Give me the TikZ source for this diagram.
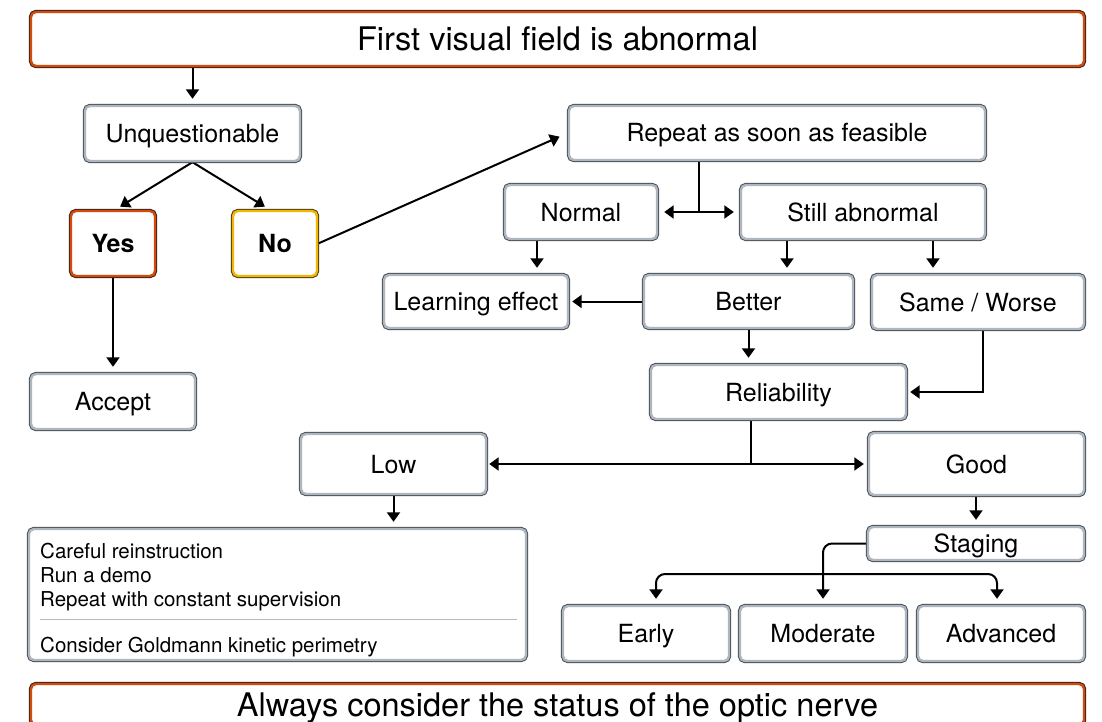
\documentclass[tikz,border=0pt]{standalone}
\usepackage{fontspec}
\setmainfont{TeX Gyre Heros}
\usetikzlibrary{arrows.meta,calc}
\pgfdeclarelayer{bg}
\pgfsetlayers{bg,main}
\definecolor{gout}{HTML}{4A5057}
\definecolor{gin}{HTML}{AEB6BF}
\definecolor{oout}{HTML}{3A2418}
\definecolor{oin}{HTML}{D4490C}
\definecolor{yout}{HTML}{4A3A10}
\definecolor{yin}{HTML}{F2B705}
\tikzset{
  bx/.style n args={2}{rounded corners=5pt, fill=white, draw=#2, line width=2.4pt,
    preaction={draw=#1, line width=4.4pt}, inner sep=0pt,
    font=\fontsize{25}{30}\selectfont, text height=18pt, text depth=0pt},
  box/.style={bx={gout}{gin}},
  obox/.style={bx={oout}{oin}},
  ybox/.style={bx={yout}{yin}},
  big/.style={font=\fontsize{32.5}{38}\selectfont, text height=23.3pt, text depth=0pt},
  txt/.style={font=\fontsize{20.5}{24}\selectfont, inner sep=0pt},
  tip/.tip={Triangle[width=13pt,length=9.5pt]},
  arr/.style={-tip, line width=2pt, shorten >=6pt},
  ln/.style={line width=2pt},
}
\begin{document}
\begin{tikzpicture}[x=1pt,y=-1pt]
\path[use as bounding box] (0,0) rectangle (1102,722);
\clip (0,0) rectangle (1102,722);
\begin{pgfonlayer}{bg}
\fill[white] (0,0) rectangle (1102,722);
\end{pgfonlayer}

\node[obox, big, minimum width=1053pt, minimum height=54pt] (title) at (557.5,39) {First visual field is abnormal};
\node[box, minimum width=215pt, minimum height=55pt] (unq) at (192.5,133.5) {Unquestionable};
\node[obox, minimum width=84pt, minimum height=65pt, font=\fontsize{25}{30}\selectfont\bfseries] (yes) at (113,243.5) {Yes};
\node[ybox, minimum width=84pt, minimum height=65pt, font=\fontsize{25}{30}\selectfont\bfseries] (no) at (275,243.5) {No};
\node[box, minimum width=164pt, minimum height=55pt] (accept) at (113,401.5) {Accept};
\node[box, minimum width=416pt, minimum height=54pt] (repeat) at (777,133) {Repeat as soon as feasible};
\node[box, minimum width=152pt, minimum height=54pt] (normal) at (581,212) {Normal};
\node[box, minimum width=244pt, minimum height=54pt] (still) at (863,212) {Still abnormal};
\node[box, minimum width=184pt, minimum height=53pt] (learn) at (476,301.5) {Learning effect};
\node[box, minimum width=209pt, minimum height=53pt] (better) at (748.5,301.5) {Better};
\node[box, minimum width=212pt, minimum height=54pt] (same) at (978,302) {Same / Worse};
\node[box, minimum width=255pt, minimum height=54pt] (reliab) at (778.5,392) {Reliability};
\node[box, minimum width=185pt, minimum height=60pt] (low) at (393.5,464) {Low};
\node[box, minimum width=215pt, minimum height=62pt] (good) at (976.5,464) {Good};
\node[box, minimum width=497pt, minimum height=131pt] (tb) at (277.5,594.5) {};
\node[box, minimum width=216pt, minimum height=33pt] (staging) at (976,543.5) {Staging};
\node[box, minimum width=166pt, minimum height=55pt] (early) at (646,633.5) {Early};
\node[box, minimum width=166pt, minimum height=55pt] (moderate) at (823,633.5) {Moderate};
\node[box, minimum width=166pt, minimum height=55pt] (advanced) at (1001,633.5) {Advanced};
\node[obox, big, minimum width=1053pt, minimum height=41pt] (bottom) at (557.5,704.5) {Always consider the status of the optic nerve};

\node[txt, anchor=base west] (t1) at (40,558) {Careful reinstruction};
\node[txt, anchor=base west] (t2) at (40,582) {Run a demo};
\node[txt, anchor=base west] (t3) at (40,606) {Repeat with constant supervision};
\node[txt, anchor=base west] (t4) at (40,652) {Consider Goldmann kinetic perimetry};
\coordinate (s1) at (40,619);
\coordinate (s2) at (517,619);
\draw[gray!55, line width=1pt] (s1) -- (s2);

\coordinate (j1) at (699,212);
\coordinate (j2) at (751,464);
\coordinate (xa) at (537,0);
\coordinate (xb) at (787,0);
\coordinate (xc) at (933,0);
\coordinate (xe) at (983,0);
\coordinate (hl) at (823,574);

\begin{pgfonlayer}{bg}
\draw[arr] (title.south -| unq.north) -- (unq.north);
\draw[arr] (unq.south) -- ([xshift=2pt]yes.north);
\draw[arr] (unq.south) -- ([xshift=-5pt]no.north);
\draw[arr, shorten >=9pt] (no.east) -- (repeat.west);
\draw[arr] (yes.south) -- (accept.north);
\draw[ln] (repeat.south -| j1) -- (j1);
\draw[arr] (j1) -- (normal.east);
\draw[arr] (j1) -- (still.west);
\draw[arr] (normal.south -| xa) -- (learn.north -| xa);
\draw[arr] (still.south -| xb) -- (better.north -| xb);
\draw[arr] (still.south -| xc) -- (same.north -| xc);
\draw[arr, shorten >=3pt] (better.west) -- (learn.east);
\draw[arr] (better.south) -- (reliab.north -| better.south);
\draw[arr, shorten >=3pt] (same.south -| xe) |- (reliab.east);
\draw[ln] (reliab.south -| j2) -- (j2);
\draw[arr, shorten >=2pt] (j2) -- (low.east);
\draw[arr, shorten >=4pt] (j2) -- (good.west);
\draw[arr] (low.south) -- (tb.north -| low.south);
\draw[arr] (good.south -| staging.north) -- (staging.north);
\draw[arr, rounded corners=9pt] (staging.west) -| (moderate.north);
\draw[tip-tip, ln, rounded corners=9pt, shorten <=6pt, shorten >=6pt]
  ([xshift=10pt]early.north) |- (hl) -| ([xshift=-4pt]advanced.north);
\end{pgfonlayer}
\end{tikzpicture}
\end{document}
